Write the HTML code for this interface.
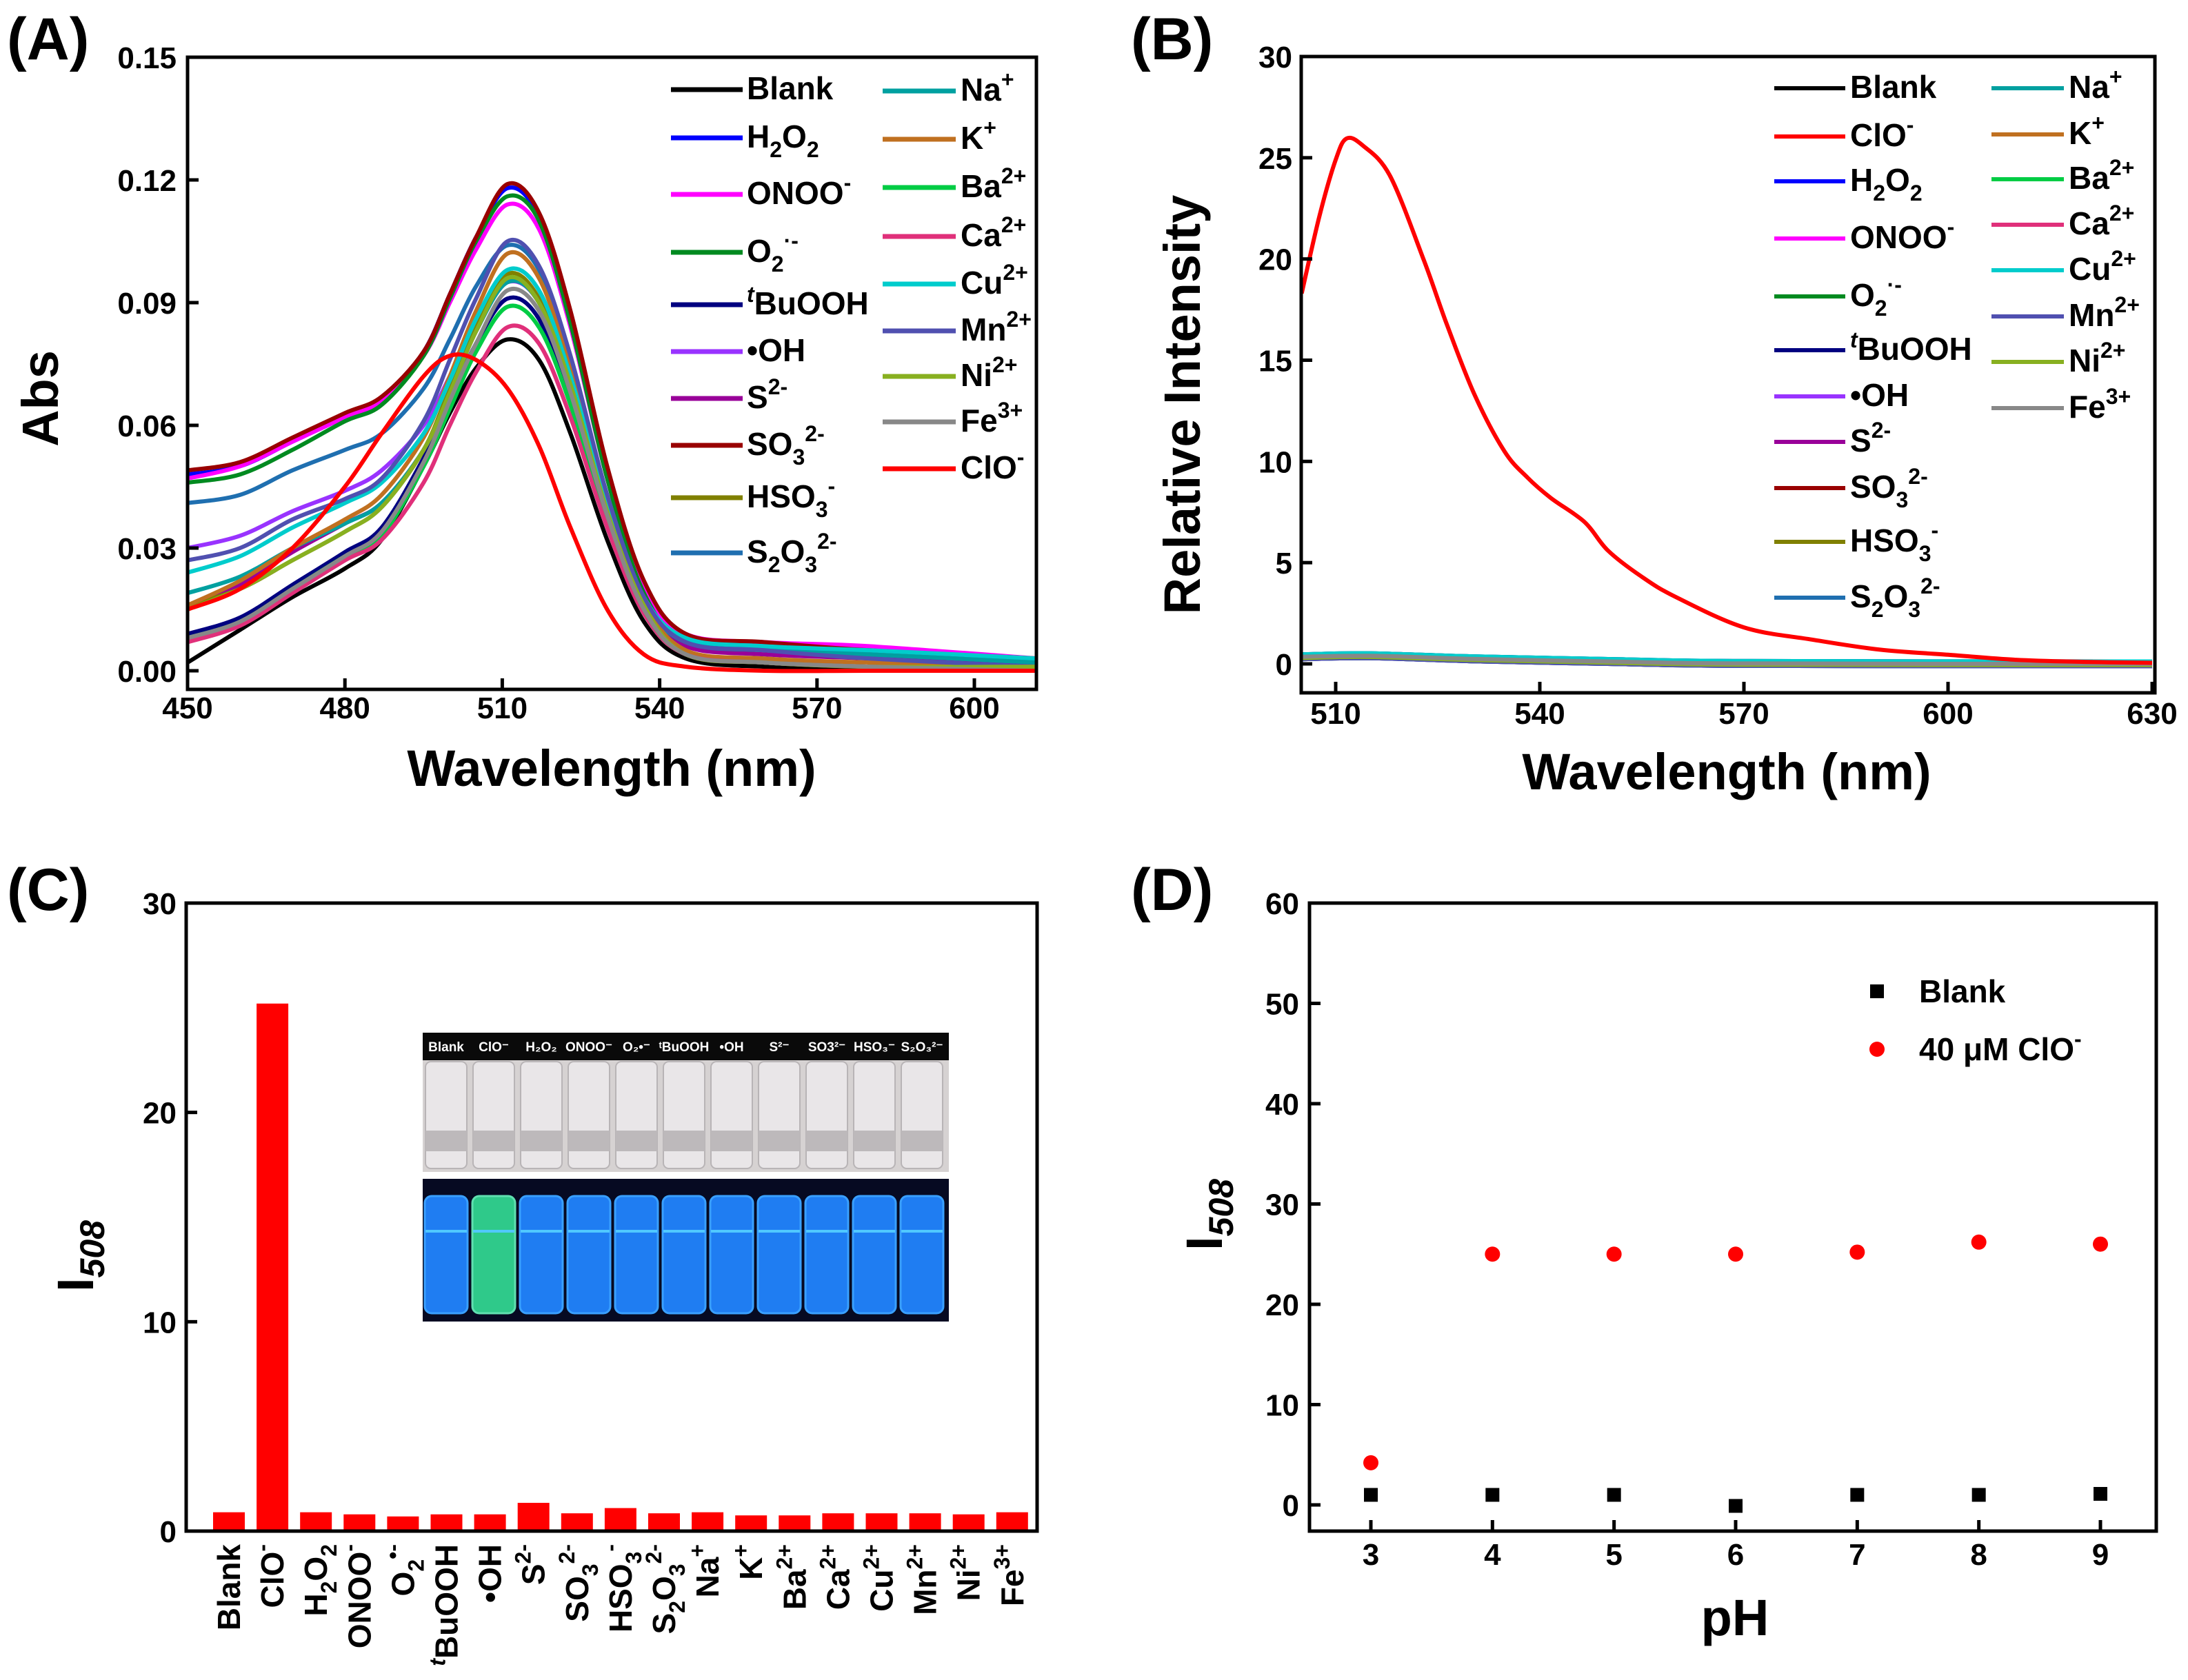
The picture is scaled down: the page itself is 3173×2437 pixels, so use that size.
<!DOCTYPE html>
<html><head><meta charset="utf-8"><style>
html,body{margin:0;padding:0;background:#fff}
svg{display:block}
text{font-family:"Liberation Sans",Arial,sans-serif;font-weight:bold;fill:#000}
.tk{font-size:44px}
.lg{font-size:46px}
.ttl{font-size:74px}
.pl{font-size:86px}
.vl{font-size:19px;fill:#fff}
</style></head><body>
<svg id="fig" xmlns="http://www.w3.org/2000/svg" width="3173" height="2437" viewBox="0 0 3173 2437"></svg>
<script>
// ---------- Panel A data ----------
const absWl = [450,460,470,480,487,495,500,505,511,517,523,530,537,545,560,580,612];
const absNames = ['Blank','H2O2','ONOO-','O2-','tBuOOH','OH','S2-','SO3','HSO3','S2O3','Na','K','Ba','Ca','Cu','Mn','Ni','Fe','ClO'];
const absColors = ['#000000','#0000ff','#ff00ff','#008a20','#000080','#9933ff','#990099','#990000','#808000','#1f6fb0','#00a0a0','#c07020','#00cc44','#e0307a','#00cccc','#5050b0','#88b020','#888888','#ff0000'];
const absBlank = [0.002,0.010,0.018,0.025,0.032,0.050,0.063,0.074,0.081,0.076,0.058,0.032,0.012,0.003,0.001,0.001,0.001];
const absH2O2 = [0.048,0.050,0.056,0.062,0.066,0.078,0.092,0.106,0.118,0.111,0.086,0.048,0.020,0.008,0.006,0.005,0.002];
const absONOO = [0.047,0.050,0.056,0.062,0.066,0.077,0.090,0.103,0.114,0.108,0.084,0.047,0.020,0.009,0.007,0.006,0.003];
const absO2 = [0.046,0.048,0.054,0.061,0.065,0.077,0.091,0.105,0.116,0.110,0.085,0.047,0.019,0.007,0.005,0.004,0.002];
const absTBu = [0.009,0.013,0.021,0.029,0.035,0.052,0.066,0.080,0.091,0.086,0.066,0.037,0.015,0.004,0.002,0.001,0.000];
const absOH = [0.030,0.033,0.039,0.044,0.049,0.060,0.072,0.085,0.095,0.090,0.069,0.039,0.017,0.008,0.006,0.004,0.002];
const absS = [0.016,0.021,0.029,0.036,0.041,0.054,0.068,0.083,0.095,0.090,0.069,0.039,0.016,0.006,0.004,0.003,0.001];
const absSO3 = [0.049,0.051,0.057,0.063,0.067,0.078,0.092,0.106,0.119,0.112,0.088,0.050,0.022,0.009,0.007,0.005,0.003];
const absHSO3 = [0.016,0.020,0.027,0.034,0.040,0.054,0.069,0.084,0.097,0.091,0.070,0.039,0.016,0.004,0.002,0.001,0.001];
const absS2O3 = [0.041,0.043,0.049,0.054,0.058,0.069,0.081,0.094,0.104,0.098,0.076,0.043,0.018,0.007,0.005,0.004,0.002];
const absNa = [0.019,0.023,0.030,0.036,0.041,0.054,0.068,0.083,0.095,0.090,0.069,0.039,0.017,0.007,0.005,0.004,0.002];
const absK = [0.016,0.022,0.030,0.037,0.043,0.057,0.072,0.088,0.102,0.096,0.074,0.042,0.017,0.005,0.003,0.002,0.001];
const absBa = [0.008,0.012,0.020,0.028,0.033,0.050,0.064,0.078,0.089,0.084,0.065,0.036,0.015,0.004,0.002,0.001,0.000];
const absCa = [0.007,0.011,0.019,0.027,0.032,0.046,0.060,0.073,0.084,0.080,0.062,0.035,0.014,0.004,0.002,0.001,0.000];
const absCu = [0.024,0.028,0.035,0.041,0.046,0.058,0.071,0.086,0.098,0.093,0.072,0.041,0.018,0.008,0.006,0.005,0.003];
const absMn = [0.027,0.030,0.037,0.042,0.047,0.061,0.076,0.091,0.105,0.099,0.077,0.043,0.018,0.007,0.005,0.003,0.001];
const absNi = [0.015,0.020,0.027,0.034,0.040,0.054,0.068,0.083,0.096,0.090,0.070,0.039,0.016,0.004,0.002,0.001,0.001];
const absFe = [0.008,0.012,0.020,0.028,0.034,0.051,0.066,0.080,0.093,0.088,0.068,0.038,0.015,0.004,0.002,0.001,0.000];
const absClO = [0.015,0.020,0.030,0.045,0.058,0.072,0.077,0.076,0.069,0.055,0.035,0.015,0.004,0.001,0.000,0.000,0.000];
const absTicksX = [450,480,510,540,570,600];
const absTicksY = ['0.00','0.03','0.06','0.09','0.12','0.15'];

// ---------- Panel B data ----------
const flWl = [505,507.6,510,511.6,514,518,523,526.3,530.4,534.8,538.2,541.6,546.6,550,555,560,570,580,590,600,610,620,630];
const flClO = [18.3,22.1,24.9,25.95,25.6,24.1,19.9,16.8,13.3,10.5,9.2,8.2,7.0,5.6,4.3,3.3,1.8,1.2,0.7,0.45,0.2,0.1,0.05];
const flOtherWl = [505,515,530,550,570,630];
const flOthers = [0.35,0.4,0.25,0.12,0.02,0.0];
const flTicksX = [510,540,570,600,630];
const flTicksY = [0,5,10,15,20,25,30];

// ---------- Panel C data ----------
const barCats = ['Blank','ClO-','H2O2','ONOO-','O2','tBuOOH','OH','S2-','SO3','HSO3','S2O3','Na','K','Ba','Ca','Cu','Mn','Ni','Fe'];
const barVals = [0.9,25.2,0.9,0.8,0.7,0.8,0.8,1.35,0.85,1.1,0.85,0.9,0.75,0.75,0.85,0.85,0.85,0.8,0.9];
const barTicksY = [0,10,20,30];

// ---------- Panel D data ----------
const phX = [3,4,5,6,7,8,9];
const phBlank = [1.0,1.0,1.0,-0.1,1.0,1.0,1.1];
const phClO = [4.2,25.0,25.0,25.0,25.2,26.2,26.0];
const phTicksY = [0,10,20,30,40,50,60];

const NS='http://www.w3.org/2000/svg';
const svg=document.getElementById('fig');
function mk(tag,attrs,parent){const e=document.createElementNS(NS,tag);for(const k in attrs)e.setAttribute(k,attrs[k]);(parent||svg).appendChild(e);return e;}
function lin(d0,d1,r0,r1){return v=>r0+(v-d0)*(r1-r0)/(d1-d0);}
function smooth(pts){let d='M'+pts[0][0].toFixed(1)+','+pts[0][1].toFixed(1);for(let i=0;i<pts.length-1;i++){const p0=pts[Math.max(0,i-1)],p1=pts[i],p2=pts[i+1],p3=pts[Math.min(pts.length-1,i+2)];const c1=[p1[0]+(p2[0]-p0[0])/6,p1[1]+(p2[1]-p0[1])/6],c2=[p2[0]-(p3[0]-p1[0])/6,p2[1]-(p3[1]-p1[1])/6];d+='C'+c1.map(v=>v.toFixed(1))+' '+c2.map(v=>v.toFixed(1))+' '+p2.map(v=>v.toFixed(1));}return d;}
const LBL={
'Blank':'Blank','H2O2':'H<tspan font-size="32" dy="14">2</tspan><tspan dy="-14">O</tspan><tspan font-size="32" dy="14">2</tspan>',
'ONOO-':'ONOO<tspan font-size="32" dy="-20">-</tspan>','O2-':'O<tspan font-size="32" dy="14">2</tspan><tspan font-size="32" dy="-34">·-</tspan>',
'tBuOOH':'<tspan font-size="32" font-style="italic" dy="-18">t</tspan><tspan dy="18">BuOOH</tspan>','OH':'•OH','S2-':'S<tspan font-size="32" dy="-20">2-</tspan>',
'SO3':'SO<tspan font-size="32" dy="14">3</tspan><tspan font-size="32" dy="-34">2-</tspan>','HSO3':'HSO<tspan font-size="32" dy="14">3</tspan><tspan font-size="32" dy="-34">-</tspan>',
'S2O3':'S<tspan font-size="32" dy="14">2</tspan><tspan dy="-14">O</tspan><tspan font-size="32" dy="14">3</tspan><tspan font-size="32" dy="-34">2-</tspan>',
'Na':'Na<tspan font-size="32" dy="-20">+</tspan>','K':'K<tspan font-size="32" dy="-20">+</tspan>','Ba':'Ba<tspan font-size="32" dy="-20">2+</tspan>','Ca':'Ca<tspan font-size="32" dy="-20">2+</tspan>',
'Cu':'Cu<tspan font-size="32" dy="-20">2+</tspan>','Mn':'Mn<tspan font-size="32" dy="-20">2+</tspan>','Ni':'Ni<tspan font-size="32" dy="-20">2+</tspan>','Fe':'Fe<tspan font-size="32" dy="-20">3+</tspan>',
'ClO':'ClO<tspan font-size="32" dy="-20">-</tspan>','ClO-':'ClO<tspan font-size="32" dy="-20">-</tspan>','O2':'O<tspan font-size="32" dy="14">2</tspan><tspan font-size="32" dy="-34">•-</tspan>'};
function txt(x,y,html,cls,anchor,parent){const t=mk('text',{x:x,y:y,class:cls,'text-anchor':anchor||'start'},parent);t.innerHTML=html;return t;}
function frame(L,T,R,B){const r=mk('rect',{x:L,y:T,width:R-L,height:B-T,fill:'none',stroke:'#000','stroke-width':5});}

// ===== Panel A =====
{const L=272,T=83,R=1503,B=1000;const sx=lin(450,600,L,1413),sy=lin(0,0.15,973,83);
const g=mk('g',{});
const clip=mk('clipPath',{id:'ca'});mk('rect',{x:L,y:T,width:R-L,height:B-T},clip);
const series=[absBlank,absH2O2,absONOO,absO2,absTBu,absOH,absS,absSO3,absHSO3,absS2O3,absNa,absK,absBa,absCa,absCu,absMn,absNi,absFe,absClO];
const cg=mk('g',{'clip-path':'url(#ca)'},g);
series.forEach((s,i)=>{const p=mk('path',{d:smooth(absWl.map((w,j)=>[sx(w),sy(s[j])])),fill:'none',stroke:absColors[i],'stroke-width':6},cg);});
frame(L,T,R,B);
absTicksX.forEach(v=>{mk('line',{x1:sx(v),x2:sx(v),y1:B,y2:B-16,stroke:'#000','stroke-width':5},g);const t=txt(sx(v),1042,v,'tk','middle',g);});
absTicksY.forEach(v=>{mk('line',{x1:L,x2:L+16,y1:sy(+v),y2:sy(+v),stroke:'#000','stroke-width':5},g);const t=txt(256,sy(+v)+16,v,'tk','end',g);});
const xt=txt(887,1140,'Wavelength (nm)','ttl','middle',g);
const yt=txt(0,0,'Abs','ttl','middle',g);yt.setAttribute('transform','translate(84,578) rotate(-90)');
const pl=txt(10,86,'(A)','pl','start',g);
const col1=['Blank','H2O2','ONOO-','O2-','tBuOOH','OH','S2-','SO3','HSO3','S2O3'],c1y=[130,200,282,366,442,510,578,646,722,802];
const col2=['Na','K','Ba','Ca','Cu','Mn','Ni','Fe','ClO'],c2y=[132,202,272,343,412,480,546,612,680];
const keyIdx=n=>absNames.indexOf(n);
col1.forEach((n,i)=>{mk('line',{x1:973,x2:1077,y1:c1y[i],y2:c1y[i],stroke:absColors[keyIdx(n)],'stroke-width':7},g);const t=txt(1083,c1y[i]+14,LBL[n],'lg','start',g);});
col2.forEach((n,i)=>{mk('line',{x1:1280,x2:1386,y1:c2y[i],y2:c2y[i],stroke:absColors[keyIdx(n)],'stroke-width':7},g);const t=txt(1393,c2y[i]+14,LBL[n],'lg','start',g);});
}

// ===== Panel B =====
{const L=1887,T=82,R=3125,B=1005;const sx=lin(510,540,1937,2233),sy=lin(0,30,963,82);
const g=mk('g',{});
const clip=mk('clipPath',{id:'cb'});mk('rect',{x:L,y:T,width:R-L,height:B-T},clip);
const cg=mk('g',{'clip-path':'url(#cb)'},g);
const otherCols=['#000000','#0000ff','#ff00ff','#008a20','#000080','#9933ff','#990099','#990000','#808000','#1f6fb0','#00a0a0','#c07020','#00cc44','#e0307a','#00cccc','#5050b0','#88b020','#888888'];
otherCols.forEach((c,i)=>{const off=(i%5-2)*0.06;const p=mk('path',{d:smooth(flOtherWl.map((w,j)=>[sx(w),sy(flOthers[j]+off)])),fill:'none',stroke:c,'stroke-width':6},cg);});
const rp=mk('path',{d:smooth(flWl.map((w,j)=>[sx(w),sy(flClO[j])])),fill:'none',stroke:'#ff0000','stroke-width':6},cg);
frame(L,T,R,B);
flTicksX.forEach(v=>{mk('line',{x1:sx(v),x2:sx(v),y1:B,y2:B-16,stroke:'#000','stroke-width':5},g);const t=txt(sx(v),1050,v,'tk','middle',g);});
flTicksY.forEach(v=>{mk('line',{x1:L,x2:L+16,y1:sy(v),y2:sy(v),stroke:'#000','stroke-width':5},g);const t=txt(1874,sy(v)+16,v,'tk','end',g);});
const xt=txt(2504,1145,'Wavelength (nm)','ttl','middle',g);
const yt=txt(0,0,'Relative Intensity','ttl','middle',g);yt.setAttribute('transform','translate(1740,587) rotate(-90)');
const pl=txt(1640,86,'(B)','pl','start',g);
const col1=['Blank','ClO','H2O2','ONOO-','O2-','tBuOOH','OH','S2-','SO3','HSO3','S2O3'],c1y=[128,198,263,346,430,508,575,641,708,786,867];
const col1c=['#000000','#ff0000','#0000ff','#ff00ff','#008a20','#000080','#9933ff','#990099','#990000','#808000','#1f6fb0'];
const col2=['Na','K','Ba','Ca','Cu','Mn','Ni','Fe'],c2y=[128,195,260,326,392,459,525,592];
const col2c=['#00a0a0','#c07020','#00cc44','#e0307a','#00cccc','#5050b0','#88b020','#888888'];
col1.forEach((n,i)=>{mk('line',{x1:2573,x2:2676,y1:c1y[i],y2:c1y[i],stroke:col1c[i],'stroke-width':6},g);const t=txt(2683,c1y[i]+14,LBL[n],'lg','start',g);});
col2.forEach((n,i)=>{mk('line',{x1:2888,x2:2993,y1:c2y[i],y2:c2y[i],stroke:col2c[i],'stroke-width':6},g);const t=txt(3000,c2y[i]+14,LBL[n],'lg','start',g);});
}

// ===== Panel C =====
{const L=270,T=1310,R=1504,B=2221;const sy=lin(0,30,B,T);const bx=i=>332+i*63.1;
const g=mk('g',{});
barVals.forEach((v,i)=>{const r=mk('rect',{x:bx(i)-23,y:sy(v),width:46,height:B-sy(v),fill:'#ff0000'},g);});
const ph=mk('g',{},g);
mk('rect',{x:613,y:1498,width:763,height:202,fill:'#d6d2d2'},ph);
mk('rect',{x:613,y:1498,width:763,height:40,fill:'#0a0a0a'},ph);
const vlab=['Blank','ClO⁻','H₂O₂','ONOO⁻','O₂•⁻','ᵗBuOOH','•OH','S²⁻','SO3²⁻','HSO₃⁻','S₂O₃²⁻'];
for(let i=0;i<11;i++){const cx=647+i*69;mk('rect',{x:cx-30,y:1540,width:60,height:155,rx:8,fill:'#e9e6e8',stroke:'#b8b4b6','stroke-width':2},ph);mk('rect',{x:cx-30,y:1640,width:60,height:30,fill:'#bdb9bb'},ph);const t=txt(cx,1525,vlab[i],'vl','middle',ph);}
mk('rect',{x:613,y:1710,width:763,height:207,fill:'#060a22'},ph);
for(let i=0;i<11;i++){const cx=647+i*69;mk('rect',{x:cx-31,y:1735,width:62,height:170,rx:10,fill:i==1?'#2fc98a':'#1f7df2',stroke:i==1?'#60e0b0':'#3aa0ff','stroke-width':3},ph);mk('line',{x1:cx-30,x2:cx+30,y1:1786,y2:1786,stroke:'#50c8ff','stroke-width':4},ph);}
frame(L,T,R,B);
barTicksY.forEach(v=>{mk('line',{x1:L,x2:L+16,y1:sy(v),y2:sy(v),stroke:'#000','stroke-width':5},g);const t=txt(256,sy(v)+16,v,'tk','end',g);});
barCats.forEach((c,i)=>{const t=txt(0,0,LBL[c]||c,'lg','end',g);t.setAttribute('transform','translate('+(bx(i)+16)+',2240) rotate(-90)');});
const yt=txt(0,0,'I<tspan font-size="50" font-style="italic" dy="16">508</tspan>','ttl','middle',g);yt.setAttribute('transform','translate(135,1822) rotate(-90)');
const pl=txt(10,1320,'(C)','pl','start',g);
}

// ===== Panel D =====
{const L=1899,T=1310,R=3127,B=2221;const sx=lin(3,9,1988,3046),sy=lin(0,60,2183,T);
const g=mk('g',{});
frame(L,T,R,B);
phX.forEach(v=>{mk('line',{x1:sx(v),x2:sx(v),y1:B,y2:B-16,stroke:'#000','stroke-width':5},g);const t=txt(sx(v),2270,v,'tk','middle',g);});
phTicksY.forEach(v=>{mk('line',{x1:L,x2:L+16,y1:sy(v),y2:sy(v),stroke:'#000','stroke-width':5},g);const t=txt(1884,sy(v)+16,v,'tk','end',g);});
phX.forEach((x,i)=>{const r=mk('rect',{x:sx(x)-10,y:sy(phBlank[i])-10,width:20,height:20,fill:'#000'},g);
const c=mk('circle',{cx:sx(x),cy:sy(phClO[i]),r:11,fill:'#ff0000'},g);});
mk('rect',{x:2712,y:1428,width:20,height:20,fill:'#000'},g);
mk('circle',{cx:2722,cy:1522,r:11,fill:'#ff0000'},g);
const l1=txt(2783,1454,'Blank','lg','start',g);
const l2=txt(2783,1538,'40 μM ClO<tspan font-size="32" dy="-20">-</tspan>','lg','start',g);
const xt=txt(2516,2372,'pH','ttl','middle',g);
const yt=txt(0,0,'I<tspan font-size="50" font-style="italic" dy="16">508</tspan>','ttl','middle',g);yt.setAttribute('transform','translate(1772,1762) rotate(-90)');
const pl=txt(1640,1320,'(D)','pl','start',g);
}
</script>
</body></html>
